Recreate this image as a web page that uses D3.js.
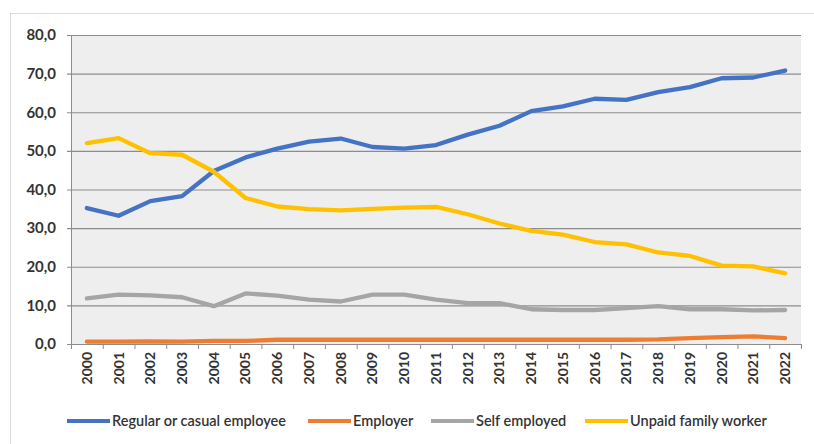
<!DOCTYPE html>
<html><head><meta charset="utf-8">
<script src="https://cdn.jsdelivr.net/npm/d3@7"></script>
<style>body{margin:0;background:#fff}svg{display:block}text{font-family:Lato,"Open Sans",sans-serif;fill:#333}</style>
</head><body>
<svg id="c" width="814" height="444"></svg>
<script>
const years = ["2000","2001","2002","2003","2004","2005","2006","2007","2008","2009","2010","2011","2012","2013","2014","2015","2016","2017","2018","2019","2020","2021","2022"];
const regular = [35.2,33.2,37.0,38.3,44.8,48.3,50.6,52.4,53.2,51.0,50.6,51.5,54.2,56.5,60.3,61.5,63.5,63.2,65.2,66.5,68.8,69.0,70.8];
const employer = [0.6,0.6,0.7,0.6,0.8,0.8,1.1,1.1,1.1,1.1,1.1,1.1,1.1,1.1,1.1,1.1,1.1,1.1,1.2,1.5,1.8,2.0,1.5];
const selfEmployed = [11.8,12.8,12.6,12.1,9.8,13.1,12.5,11.5,11.0,12.8,12.8,11.5,10.6,10.6,9.0,8.8,8.8,9.3,9.8,9.0,9.0,8.7,8.8];
const unpaid = [52.0,53.3,49.4,49.0,44.6,37.8,35.6,34.9,34.6,35.0,35.3,35.5,33.6,31.2,29.3,28.3,26.4,25.8,23.7,22.8,20.3,20.1,18.3];
const seriesNames = ["Regular or casual employee","Employer","Self employed","Unpaid family worker"];
const yTicks = [0,10,20,30,40,50,60,70,80];

const colors = ["#4472C4","#ED7D31","#A5A5A5","#FFC000"];
const series = [regular, employer, selfEmployed, unpaid];

const svg = d3.select("#c");
const L = 71, R = 801, T = 35, B = 344;

svg.append("rect").attr("x",10.5).attr("y",13.5).attr("width",820).attr("height",450)
  .attr("fill","#fff").attr("stroke","#d9d9d9");

svg.append("rect").attr("x",L).attr("y",T).attr("width",R-L).attr("height",B-T).attr("fill","#eeeeee");

const x = d3.scaleBand().domain(years).range([L,R]);
const y = d3.scaleLinear().domain([0,80]).range([B,T]);

svg.append("g").selectAll("line").data(yTicks).join("line")
  .attr("x1",L-4).attr("x2",R).attr("y1",d=>y(d)+0.5).attr("y2",d=>y(d)+0.5)
  .attr("stroke","#8c8c8c").attr("stroke-width",1.2);

svg.append("line").attr("x1",L+0.5).attr("x2",L+0.5).attr("y1",T).attr("y2",B+4).attr("stroke","#8c8c8c");

svg.append("g").selectAll("text").data(yTicks).join("text")
  .attr("x",56).attr("y",d=>y(d)).attr("dy","0.35em").attr("text-anchor","end")
  .attr("font-size",15).attr("font-weight",700).attr("fill","#333")
  .text(d=>d3.format(".1f")(d).replace(".",","));

const bounds = years.map(d=>x(d)).concat([R]);
svg.append("g").selectAll("line").data(bounds).join("line")
  .attr("x1",d=>d+0.5).attr("x2",d=>d+0.5).attr("y1",B).attr("y2",B+5).attr("stroke","#8c8c8c");

svg.append("g").selectAll("text").data(years).join("text")
  .attr("transform",d=>`translate(${x(d)+x.bandwidth()/2},352) rotate(-90)`)
  .attr("text-anchor","end").attr("dy","0.35em")
  .attr("font-size",14).attr("font-weight",700).attr("fill","#333").text(d=>d);

const line = d3.line().x((d,i)=>x(years[i])+x.bandwidth()/2).y(d=>y(d));
series.forEach((s,k)=>{
  svg.append("path").datum(s).attr("d",line).attr("fill","none")
    .attr("stroke",colors[k]).attr("stroke-width",4.3).attr("stroke-linejoin","round").attr("stroke-linecap","round");
});

const legX = [67,308,431,585];
seriesNames.forEach((n,k)=>{
  const g = svg.append("g").attr("transform",`translate(${legX[k]},421)`);
  g.append("line").attr("x1",0).attr("x2",43).attr("stroke",colors[k]).attr("stroke-width",4);
  g.append("text").attr("x",45).attr("dy","0.35em").attr("font-size",14.5).attr("font-weight",600).attr("fill","#333").text(n);
});
</script>
</body></html>
